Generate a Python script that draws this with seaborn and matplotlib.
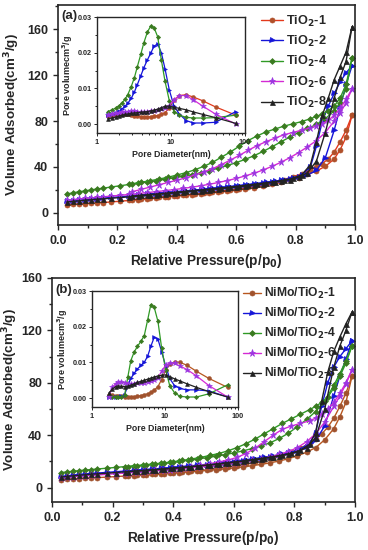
import numpy as np
import matplotlib
matplotlib.use('Agg')
import matplotlib.pyplot as plt
from matplotlib.ticker import MultipleLocator, LogLocator, NullFormatter
import seaborn as sns

sns.set_style('ticks')
plt.rcParams['font.family'] = ['Liberation Sans', 'DejaVu Sans']
plt.rcParams['font.weight'] = 'bold'
plt.rcParams['axes.labelweight'] = 'bold'
plt.rcParams['mathtext.default'] = 'bf'

# relative pressure points (adsorption / desorption branches)
p_ads = [0.03, 0.05, 0.07, 0.09, 0.11, 0.13, 0.15, 0.18, 0.21, 0.24, 0.27, 0.30,
         0.33, 0.36, 0.39, 0.42, 0.45, 0.48, 0.51, 0.54, 0.57, 0.60, 0.63, 0.66,
         0.69, 0.72, 0.75, 0.78, 0.81, 0.84, 0.87, 0.90, 0.93, 0.95, 0.97, 0.99]
p_des = [0.99, 0.97, 0.95, 0.93, 0.91, 0.89, 0.87, 0.85, 0.82, 0.79, 0.76, 0.73,
         0.70, 0.67, 0.64, 0.61, 0.58, 0.55, 0.52, 0.49, 0.46, 0.43, 0.40, 0.37,
         0.34, 0.31, 0.28, 0.25]

# (a) TiO2 isotherms
ti1_ads = [7.0, 7.4, 7.8, 8.1, 8.4, 8.7, 9.0, 9.6, 10.2, 10.9, 11.6, 12.3, 13.0, 13.8, 14.6, 15.3,
           16.0, 16.7, 17.4, 18.1, 18.9, 19.8, 20.9, 22.0, 23.3, 24.8, 26.5, 28.5, 30.8, 33.5, 36.5,
           40.5, 47, 55, 66, 85]
ti1_des = [85, 72, 62, 53, 47, 43, 40, 37.5, 34, 31.5, 29, 27, 25.5, 24, 22.5, 21, 20, 19, 18,
           17.2, 16.4, 15.6, 14.9, 14.2, 13.5, 12.8, 12.1, 11.4]
ti2_ads = [10.0, 10.6, 11.1, 11.6, 12.1, 12.5, 12.9, 13.5, 14.1, 14.8, 15.4, 16.1, 16.8, 17.5, 18.2,
           18.9, 19.6, 20.3, 21.0, 21.8, 22.6, 23.5, 24.4, 25.3, 26.3, 27.3, 28.4, 29.6, 31.0, 33.0,
           37, 48, 72, 92, 112, 128]
ti2_des = [128, 122, 114, 104, 93, 80, 58, 40, 33, 30.5, 28.8, 27.5, 26.5, 25.5, 24.6, 23.8, 23.0,
           22.2, 21.4, 20.6, 19.9, 19.2, 18.5, 17.8, 17.1, 16.4, 15.7, 15.0]
ti4_ads = [16.5, 17.5, 18.4, 19.2, 20.0, 20.8, 21.5, 22.6, 23.7, 24.8, 25.9, 27.0, 28.1, 29.3, 30.5,
           31.8, 33.3, 35.0, 36.9, 39.0, 41.3, 43.8, 46.6, 49.8, 53.5, 57.5, 61.8, 66.0, 70.0, 73.5,
           77, 82, 89, 96, 108, 135]
ti4_des = [135, 112, 100, 93, 89, 86, 84, 82, 79.5, 77.5, 75.5, 73, 70.5, 67, 63, 58, 53, 48.5, 44,
           40.5, 37.5, 35, 33, 31, 29.5, 28, 26.7, 25.4]
ti6_ads = [11.0, 11.6, 12.1, 12.6, 13.1, 13.5, 14.0, 14.7, 15.4, 16.1, 16.9, 17.7, 18.5, 19.4, 20.3,
           21.3, 22.4, 23.6, 25.0, 26.5, 28.2, 30.0, 32.2, 34.6, 37.3, 40.5, 44.0, 48.0, 52.5, 57.5,
           63, 70, 80, 87, 96, 108]
ti6_des = [108, 99, 91, 85, 80.5, 77.5, 75.5, 74, 72, 70, 68, 65, 62, 58.5, 54.5, 50, 46, 42, 38.5,
           35.5, 33, 30.5, 28.5, 26.5, 24.5, 22.5, 20.5, 18.5]
ti8_ads = [9.5, 10.0, 10.5, 11.0, 11.4, 11.8, 12.2, 12.8, 13.4, 14.0, 14.7, 15.3, 16.0, 16.7, 17.4,
           18.1, 18.8, 19.5, 20.2, 21.0, 21.8, 22.6, 23.5, 24.4, 25.4, 26.5, 27.7, 29.0, 31.0, 35,
           45, 70, 100, 118, 132, 162]
ti8_des = [162, 140, 128, 116, 100, 85, 62, 42, 33, 30, 28.5, 27.2, 26.2, 25.2, 24.3, 23.4, 22.6,
           21.8, 21.0, 20.2, 19.5, 18.8, 18.1, 17.4, 16.7, 16.0, 15.3, 14.6]

# (b) NiMo/TiO2 isotherms
nm1_ads = [6.0, 6.3, 6.6, 6.9, 7.1, 7.3, 7.6, 8.0, 8.4, 8.8, 9.2, 9.6, 10.0, 10.5, 11.0, 11.5, 12.0,
           12.5, 13.1, 13.7, 14.3, 15.0, 15.8, 16.7, 17.7, 18.9, 20.3, 22.0, 24.2, 27.0, 30.5, 36.5,
           45, 54, 65, 85]
nm1_des = [85, 72, 62, 53, 46, 41, 37, 34, 30, 27, 24.5, 22.5, 20.8, 19.3, 18, 16.8, 15.8, 14.8,
           13.9, 13.0, 12.3, 11.7, 11.1, 10.6, 10.1, 9.7, 9.3, 8.9]
nm2_ads = [8.5, 9.0, 9.5, 10.0, 10.4, 10.8, 11.1, 11.6, 12.1, 12.6, 13.1, 13.6, 14.1, 14.6, 15.2,
           15.8, 16.4, 17.0, 17.6, 18.3, 19.0, 19.8, 20.6, 21.5, 22.5, 23.6, 24.8, 26.2, 28.0, 31,
           36, 47, 70, 85, 98, 112]
nm2_des = [112, 106, 100, 92, 80, 62, 42, 34, 29.5, 27, 25.5, 24.2, 23.2, 22.2, 21.3, 20.4, 19.6,
           18.8, 18.0, 17.3, 16.6, 16.0, 15.4, 14.8, 14.2, 13.7, 13.2, 12.7]
nm4_ads = [11.5, 12.0, 12.5, 13.0, 13.4, 13.8, 14.2, 14.8, 15.4, 16.0, 16.6, 17.2, 17.9, 18.6, 19.3,
           20.1, 20.9, 21.8, 22.8, 23.9, 25.1, 26.5, 28.0, 29.8, 31.8, 34.2, 37.5, 41.5, 46.5, 52,
           58, 66, 78, 87, 97, 108]
nm4_des = [108, 95, 85, 76, 69, 65, 62, 59.5, 56, 52.5, 49, 45, 41, 37, 33.5, 30.5, 28, 26, 24.5,
           23, 21.8, 20.7, 19.7, 18.8, 18.0, 17.3, 16.6, 16.0]
nm6_ads = [7.5, 7.9, 8.3, 8.7, 9.0, 9.3, 9.6, 10.1, 10.6, 11.1, 11.6, 12.1, 12.6, 13.1, 13.7, 14.3,
           14.9, 15.5, 16.2, 16.9, 17.7, 18.6, 19.6, 20.7, 22.0, 23.5, 25.3, 27.5, 30.5, 35, 41, 50,
           62, 70, 79, 90]
nm6_des = [90, 80, 72, 65, 60, 56, 53, 51, 49, 47, 44.5, 40, 35, 30, 26, 23, 21, 19.5, 18.2, 17.0,
           16.0, 15.2, 14.5, 13.8, 13.2, 12.6, 12.0, 11.5]
nm8_ads = [8.0, 8.5, 9.0, 9.4, 9.8, 10.2, 10.5, 11.0, 11.5, 12.0, 12.5, 13.0, 13.5, 14.0, 14.6, 15.2,
           15.8, 16.4, 17.0, 17.7, 18.4, 19.2, 20.0, 20.9, 21.9, 23.0, 24.2, 25.6, 27.4, 30.5, 38,
           60, 92, 108, 120, 134]
nm8_des = [134, 125, 115, 104, 88, 66, 42, 33, 28.5, 26.2, 24.8, 23.6, 22.6, 21.6, 20.7, 19.8, 19.0,
           18.2, 17.4, 16.7, 16.0, 15.4, 14.8, 14.2, 13.6, 13.1, 12.6, 12.1]

# pore size distributions (insets)
d_top = [1.4, 1.6, 1.8, 2.0, 2.2, 2.4, 2.6, 2.9, 3.2, 3.5, 3.9, 4.3, 4.8, 5.3, 5.9, 6.6, 7.4, 8.3,
         9.5, 11, 13, 16, 20, 27, 40, 75]
psd_ti1 = [0.0022, 0.0024, 0.0026, 0.0028, 0.0029, 0.0029, 0.0028, 0.0026, 0.0024, 0.0022, 0.0021,
           0.0020, 0.0020, 0.0021, 0.0022, 0.0024, 0.0027, 0.0032, 0.0045, 0.0068, 0.0080, 0.0082,
           0.0076, 0.0065, 0.0048, 0.0025]
psd_ti2 = [0.0025, 0.0028, 0.0032, 0.0037, 0.0043, 0.0050, 0.0058, 0.0072, 0.0090, 0.0110, 0.0135,
           0.0158, 0.0180, 0.0198, 0.0218, 0.0225, 0.0200, 0.0155, 0.0095, 0.0050, 0.0028, 0.0010,
           0.0003, 0.0003, 0.0005, 0.0035]
psd_ti4 = [0.0035, 0.0040, 0.0045, 0.0052, 0.0060, 0.0070, 0.0082, 0.0105, 0.0130, 0.0160, 0.0195,
           0.0228, 0.0258, 0.0274, 0.0270, 0.0245, 0.0180, 0.0120, 0.0065, 0.0035, 0.0025, 0.0019,
           0.0017, 0.0017, 0.0018, 0.0025]
psd_ti6 = [0.0025, 0.0028, 0.0030, 0.0032, 0.0033, 0.0034, 0.0035, 0.0036, 0.0036, 0.0035, 0.0034,
           0.0034, 0.0035, 0.0036, 0.0038, 0.0040, 0.0043, 0.0046, 0.0052, 0.0068, 0.0080, 0.0080,
           0.0068, 0.0050, 0.0028, 0.0000]
psd_ti8 = [0.0015, 0.0017, 0.0020, 0.0023, 0.0025, 0.0027, 0.0028, 0.0030, 0.0031, 0.0032, 0.0033,
           0.0034, 0.0035, 0.0037, 0.0039, 0.0042, 0.0046, 0.0050, 0.0050, 0.0047, 0.0044, 0.0040,
           0.0034, 0.0027, 0.0018, 0.0002]

d_bot = [1.7, 1.9, 2.1, 2.3, 2.5, 2.8, 3.1, 3.4, 3.8, 4.2, 4.7, 5.2, 5.8, 6.4, 7.1, 8.0, 9.0, 10.2,
         11.6, 13.5, 16, 20, 27, 40, 72]
psd_nm1 = [0.0008, 0.0008, 0.0007, 0.0006, 0.0005, 0.0004, 0.0003, 0.0003, 0.0004, 0.0005, 0.0007,
           0.0009, 0.0012, 0.0016, 0.0022, 0.0032, 0.0052, 0.0078, 0.0095, 0.0101, 0.0100, 0.0092,
           0.0075, 0.0055, 0.0030]
psd_nm2 = [0.0004, 0.0004, 0.0004, 0.0004, 0.0005, 0.0010, 0.0035, 0.0055, 0.0070, 0.0082, 0.0092,
           0.0100, 0.0118, 0.0145, 0.0170, 0.0165, 0.0130, 0.0090, 0.0055, 0.0035, 0.0027, 0.0023,
           0.0023, 0.0020, 0.0003]
psd_nm4 = [0.0005, 0.0004, 0.0004, 0.0004, 0.0004, 0.0008, 0.0060, 0.0105, 0.0130, 0.0145, 0.0160,
           0.0175, 0.0220, 0.0262, 0.0255, 0.0215, 0.0140, 0.0080, 0.0035, 0.0015, 0.0005, 0.0003,
           0.0003, 0.0012, 0.0037]
psd_nm6 = [0.0004, 0.0030, 0.0040, 0.0045, 0.0045, 0.0043, 0.0040, 0.0040, 0.0040, 0.0041, 0.0042,
           0.0043, 0.0045, 0.0047, 0.0050, 0.0057, 0.0075, 0.0092, 0.0098, 0.0097, 0.0090, 0.0080,
           0.0062, 0.0035, 0.0003]
psd_nm8 = [0.0014, 0.0025, 0.0032, 0.0034, 0.0033, 0.0032, 0.0033, 0.0036, 0.0040, 0.0044, 0.0047,
           0.0050, 0.0053, 0.0056, 0.0059, 0.0062, 0.0064, 0.0065, 0.0060, 0.0054, 0.0048, 0.0040,
           0.0030, 0.0018, 0.0003]

top_labels = ['TiO$_2$-1', 'TiO$_2$-2', 'TiO$_2$-4', 'TiO$_2$-6', 'TiO$_2$-8']
bot_labels = ['NiMo/TiO$_2$-1', 'NiMo/TiO$_2$-2', 'NiMo/TiO$_2$-4', 'NiMo/TiO$_2$-6', 'NiMo/TiO$_2$-8']

# style per sample: line colour, marker colour, marker
styles = [('#e3391c', '#b0502a', 'o'),
          ('#1515d8', '#1515d8', '>'),
          ('#2f9a25', '#3a7a20', 'D'),
          ('#d42ad4', '#9a35e0', '*'),
          ('#222222', '#222222', '^')]
styles_b = [('#b8571f', '#a0522d', 'o')] + styles[1:]

top_sets = [(ti1_ads, ti1_des, psd_ti1), (ti2_ads, ti2_des, psd_ti2), (ti4_ads, ti4_des, psd_ti4),
            (ti6_ads, ti6_des, psd_ti6), (ti8_ads, ti8_des, psd_ti8)]
bot_sets = [(nm1_ads, nm1_des, psd_nm1), (nm2_ads, nm2_des, psd_nm2), (nm4_ads, nm4_des, psd_nm4),
            (nm6_ads, nm6_des, psd_nm6), (nm8_ads, nm8_des, psd_nm8)]


def msize(m, base):
    if m == '*':
        return base + 1.5
    if m == 'D':
        return base - 0.6
    return base


def draw_iso(ax, sets, labels, stys):
    for (ads, des, _), lab, (lc, mc, m) in zip(sets, labels, stys):
        sns.lineplot(x=p_ads, y=ads, ax=ax, color=lc, marker=m, markersize=msize(m, 3.6),
                     mfc=mc, mec=mc, mew=0.5, lw=1.0, sort=False, estimator=None, label=lab)
        sns.lineplot(x=p_des, y=des, ax=ax, color=lc, marker=m, markersize=msize(m, 3.6),
                     mfc=mc, mec=mc, mew=0.5, lw=1.0, sort=False, estimator=None)


def draw_psd(ax, d, sets, stys):
    for (_, _, psd), (lc, mc, m) in zip(sets, stys):
        sns.lineplot(x=d, y=psd, ax=ax, color=lc, marker=m, markersize=msize(m, 2.8),
                     mfc=mc, mec=mc, mew=0.4, lw=0.9, sort=False, estimator=None)


def style_main(ax, ylim, ylab_x):
    ax.set_xlim(0, 1.0)
    ax.set_ylim(*ylim)
    ax.xaxis.set_minor_locator(MultipleLocator(0.1))
    ax.yaxis.set_major_locator(MultipleLocator(40))
    ax.yaxis.set_minor_locator(MultipleLocator(20))
    ax.tick_params(which='both', direction='out', labelsize=9, width=1.0)
    ax.tick_params(which='major', length=3.5)
    ax.tick_params(which='minor', length=2)
    for s in ax.spines.values():
        s.set_linewidth(1.2)
    ax.set_xticks([0, 0.2, 0.4, 0.6, 0.8, 1.0])
    ax.set_xticklabels(['0.0', '0.2', '0.4', '0.6', '0.8', '1.0'], fontweight='bold')
    for t in ax.get_yticklabels():
        t.set_fontweight('bold')
    ax.set_xlabel('Relative Pressure(p/p$_0$)', fontsize=9.8, fontweight='bold', labelpad=4)
    ax.set_ylabel('Volume Adsorbed(cm$^3$/g)', fontsize=9.6, fontweight='bold')
    ax.yaxis.set_label_coords(ylab_x, 0.5)


def style_inset(ax):
    ax.set_xscale('log')
    ax.set_xlim(1, 100)
    ax.set_ylim(-0.0025, 0.03)
    ax.set_xticks([1, 10, 100])
    ax.set_xticklabels(['1', '10', '100'])
    ax.xaxis.set_minor_locator(LogLocator(base=10, subs=np.arange(2, 10)))
    ax.xaxis.set_minor_formatter(NullFormatter())
    ax.set_yticks([0.0, 0.01, 0.02, 0.03])
    ax.set_yticklabels(['0.00', '0.01', '0.02', '0.03'])
    ax.yaxis.set_minor_locator(MultipleLocator(0.005))
    ax.tick_params(which='both', direction='out', labelsize=5.2, width=0.7, pad=1.5)
    ax.tick_params(which='major', length=2.5)
    ax.tick_params(which='minor', length=1.2)
    for s in ax.spines.values():
        s.set_linewidth(1.0)
    for t in ax.get_xticklabels() + ax.get_yticklabels():
        t.set_fontweight('bold')
    ax.set_xlabel('Pore Diameter(nm)', fontsize=6.3, fontweight='bold', labelpad=3)
    ax.set_ylabel('Pore volumecm$^3$/g', fontsize=6.5, fontweight='bold', labelpad=2)


fig = plt.figure(figsize=(3.68, 5.5), dpi=100)
ax1 = fig.add_axes([58 / 368, 1 - 225 / 550, 297 / 368, 220 / 550])
ax2 = fig.add_axes([52 / 368, 1 - 502 / 550, 303 / 368, 224 / 550])
in1 = fig.add_axes([97 / 368, 1 - 133 / 550, 148 / 368, 116 / 550])
in2 = fig.add_axes([92 / 368, 1 - 407 / 550, 146 / 368, 116 / 550])

draw_iso(ax1, top_sets, top_labels, styles)
draw_iso(ax2, bot_sets, bot_labels, styles_b)
draw_psd(in1, d_top, top_sets, styles)
draw_psd(in2, d_bot, bot_sets, styles_b)

style_main(ax1, (-10.5, 181), -0.122)
style_main(ax2, (-11, 160), -0.104)
style_inset(in1)
style_inset(in2)

ax1.legend(loc='upper left', bbox_to_anchor=(0.665, 0.985), frameon=False, fontsize=9.2,
           handlelength=1.75, handletextpad=0.25, labelspacing=0.42, borderaxespad=0)
ax2.legend(loc='upper left', bbox_to_anchor=(0.615, 0.985), frameon=False, fontsize=8.7,
           handlelength=1.5, handletextpad=0.2, labelspacing=0.4, borderaxespad=0)

ax1.text(0.012, 0.975, '(a)', transform=ax1.transAxes, fontsize=9.5, fontweight='bold',
         va='top', ha='left')
ax2.text(0.012, 0.975, '(b)', transform=ax2.transAxes, fontsize=9.5, fontweight='bold',
         va='top', ha='left')

fig.savefig('out.png', dpi=100)
